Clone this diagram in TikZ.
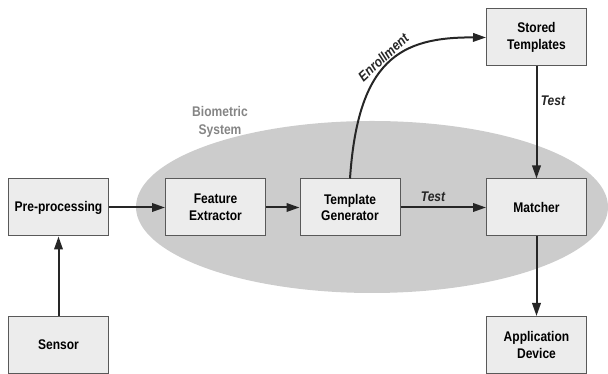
\documentclass[tikz,border=0pt]{standalone}
\usepackage{fontspec}
\setmainfont[FakeStretch=0.86]{Liberation Sans}
\usetikzlibrary{arrows.meta}

\definecolor{boxfill}{gray}{0.925}
\definecolor{boxline}{gray}{0.35}
\definecolor{biofill}{gray}{0.80}
\definecolor{biotext}{gray}{0.52}

\begin{document}
\begin{tikzpicture}[x=1pt, y=1pt,
        block/.style={shape=rectangle, draw=boxline, fill=boxfill, line width=1pt,
            minimum width=100pt, minimum height=57pt, align=center,
            font=\fontsize{14}{16.5}\selectfont\bfseries},
        flow/.style={-{Triangle[length=13pt, width=8.5pt]}, line width=2pt, black!85},
        tag/.style={font=\fontsize{14}{16.5}\selectfont\bfseries\itshape, text=black!85}]
        \useasboundingbox (0,0) rectangle (608,374);

        \fill[biofill] (372,167) ellipse [x radius=236, y radius=86];
        \node[align=center, text=biotext, font=\fontsize{14}{18.5}\selectfont\bfseries] (bio) at (220,252) {Biometric\\System};

        \node[block] (pre) at (58.5,166.5) {Pre-processing};
        \node[block] (sensor) at (58.5,29) {Sensor};
        \node[block] (feat) at (215.5,166.5) {Feature\\Extractor};
        \node[block] (gen) at (350,166.5) {Template\\Generator};
        \node[block] (match) at (536.5,166.5) {Matcher};
        \node[block] (store) at (536.5,336.5) {Stored\\Templates};
        \node[block] (app) at (536.5,29) {Application\\Device};

        \path [flow] (sensor) edge (pre);
        \path [flow] (pre) edge (feat);
        \path [flow] (feat) edge (gen);
        \path [flow] (gen) edge node[tag, above, pos=0.38, yshift=2pt] {Test} (match);
        \path [flow] (store) edge node[tag, right, pos=0.31] {Test} (match);
        \path [flow] (match) edge (app);
        \draw [flow] (gen.north) .. controls (358,314) and (400,337) .. node[tag, sloped, above, pos=0.5, inner sep=2pt] {Enrollment} (store.west);
    \end{tikzpicture}
\end{document}
